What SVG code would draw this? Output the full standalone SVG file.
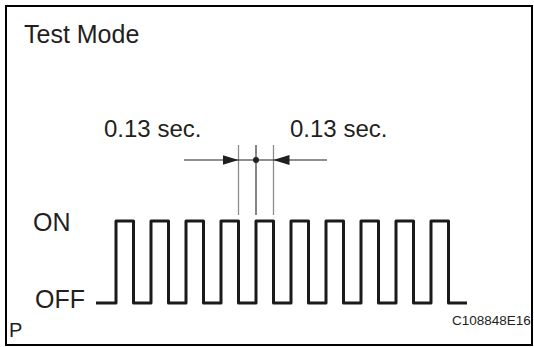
<svg xmlns="http://www.w3.org/2000/svg" width="534" height="347" viewBox="0 0 534 347">
<style>
.t{font-family:"Liberation Sans",Arial,sans-serif;fill:#231f20}
.big{font-size:25px}
.mid{font-size:24px}
.dim{stroke:#231f20;stroke-width:1.1;fill:none}
.ext{stroke:#8c8c8c;stroke-width:1.3;fill:none}
</style>
<defs>
<marker id="ah" markerUnits="userSpaceOnUse" markerWidth="16" markerHeight="10" refX="16" refY="5" orient="auto">
<path d="M0,0 L16,5 L0,10 Z" fill="#231f20"/>
</marker>
</defs>
<rect x="6" y="6" width="526" height="339" fill="#fff" stroke="#000" stroke-width="2"/>
<g id="title"><text class="t big" x="24" y="43">Test Mode</text></g>
<g id="labels">
<text class="t big" x="33" y="231">ON</text>
<text class="t big" x="35" y="308">OFF</text>
<text class="t" x="9" y="337" font-size="20">P</text>
<text class="t" x="452" y="325" font-size="13.5">C108848E16</text>
</g>
<g id="dim-labels">
<text class="t mid" x="104" y="137">0.13 sec.</text>
<text class="t mid" x="290" y="137">0.13 sec.</text>
</g>
<g id="waveform">
<path d="M96,303 H116 V221 H133.5 V303 H151 V221 H168.5 V303 H186 V221 H203.5 V303 H221 V221 H238.5 V303 H256 V221 H273.5 V303 H291 V221 H308.5 V303 H326 V221 H343.5 V303 H361 V221 H378.5 V303 H396 V221 H413.5 V303 H431 V221 H448.5 V303 H467" fill="none" stroke="#1a1a1a" stroke-width="3" stroke-linejoin="round"/>
</g>
<g id="connectors">
<line class="ext" x1="238.5" y1="145" x2="238.5" y2="215"/>
<line class="ext" x1="273.5" y1="145" x2="273.5" y2="215"/>
<line class="dim" x1="256" y1="145" x2="256" y2="215"/>
<line class="dim" x1="238.5" y1="160" x2="273.5" y2="160"/>
<line class="dim" x1="184" y1="160" x2="238.5" y2="160" marker-end="url(#ah)"/>
<line class="dim" x1="327" y1="160" x2="273.5" y2="160" marker-end="url(#ah)"/>
<circle cx="256" cy="160" r="3" fill="#231f20"/>
</g>
</svg>
